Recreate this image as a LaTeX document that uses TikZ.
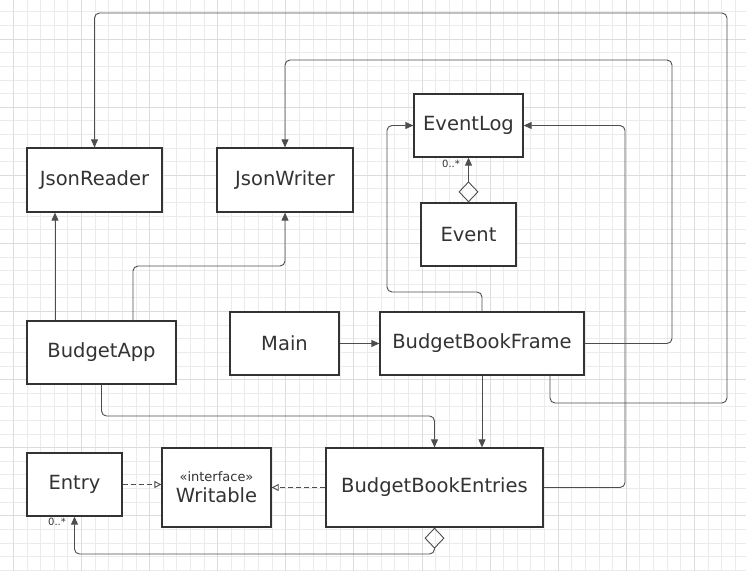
\documentclass[tikz,border=0pt]{standalone}
\usepackage{fontspec}
\setmainfont{DejaVu Sans}
\usetikzlibrary{arrows.meta}
\definecolor{ink}{HTML}{333333}
\definecolor{wire}{HTML}{4D4D4D}
\definecolor{gridminor}{HTML}{EBEBEB}
\definecolor{gridmajor}{HTML}{DCDCDC}

\begin{document}
\begin{tikzpicture}[x=1pt,y=-1pt]
  \tikzset{cls/.style = {shape=rectangle, draw=ink, line width=1.3pt, fill=white, text=ink, inner sep=1pt, font=\fontsize{19.5}{21}\selectfont}}
  \tikzset{link/.style = {draw=wire, line width=0.9pt, rounded corners=5pt, arrows={-Triangle[length=8pt,width=7pt]}}}
  \tikzset{realize/.style = {draw=wire, line width=0.9pt, dash pattern=on 5pt off 3pt, arrows={-Triangle[open,length=7pt,width=7pt]}}}
  \tikzset{aggr/.style = {link, arrows={Diamond[open,length=21pt,width=20pt]-Triangle[length=8pt,width=7pt]}}}
  \tikzset{mult/.style = {text=ink, inner sep=0pt, font=\fontsize{10}{12}\selectfont}}

  \useasboundingbox (0,0) rectangle (746,571);
  \fill[white] (0,0) rectangle (746,571);
  % grid
  \foreach \i in {0,...,54} \draw[gridminor, line width=0.8pt] ({-0.3+13.62*\i},0) -- ({-0.3+13.62*\i},571);
  \foreach \i in {0,...,41} \draw[gridminor, line width=0.8pt] (0,{11.8+13.62*\i}) -- (746,{11.8+13.62*\i});
  \foreach \i in {0,...,10} \draw[gridmajor, line width=0.8pt] ({13.3+68.1*\i},0) -- ({13.3+68.1*\i},571);
  \foreach \i in {0,...,7} \draw[gridmajor, line width=0.8pt] (0,{39+68.1*\i}) -- (746,{39+68.1*\i});

	\node[cls, minimum width=135pt, minimum height=64pt] (jsonreader) at (94.5,180) {JsonReader};
	\node[cls, minimum width=136pt, minimum height=64pt] (jsonwriter) at (285,180) {JsonWriter};
	
	\node[cls, minimum width=109pt, minimum height=63pt] (eventlog) at (468.5,125.5) {EventLog};
	\node[cls, minimum width=95pt, minimum height=63pt] (event) at (468.5,234.5) {Event};
	
	\node[cls, minimum width=149pt, minimum height=63pt] (budgetapp) at (101.5,352.5) {BudgetApp};
	\node[cls, minimum width=109pt, minimum height=63pt] (main) at (284.5,343.5) {Main};
	\node[cls, minimum width=204pt, minimum height=63pt] (frame) at (482,343.5) {BudgetBookFrame};
	
	\node[cls, minimum width=95pt, minimum height=63pt] (entry) at (74.5,484.5) {Entry};
	\node[cls, minimum width=109pt, minimum height=79pt, align=center] (writable) at (216.5,487.5) {{\fontsize{13}{14}\selectfont «interface»}\\Writable};
	\node[cls, minimum width=217pt, minimum height=79pt] (entries) at (434.5,487.5) {BudgetBookEntries};

	\node[mult] (evmult) at (451,163.5) {0..*};
	\node[mult] (enmult) at (57,521.5) {0..*};

    \draw[link] (budgetapp.north -| 55,0) -- (jsonreader.south -| 55,0);
    \draw[link] (budgetapp.north -| 133,0) |- (jsonwriter.south |- 0,266) -- (jsonwriter.south);
    \draw[link] (budgetapp.south) |- (entries.north |- 0,416) -- (entries.north);
    \draw[link] (main.east) -- (frame.west);
    \draw[link] (frame.south) -- (entries.north -| frame.south);
    \draw[link] (frame.east) -| (672,60) -| (jsonwriter.north);
    \draw[link] (frame.south -| 550,0) |- (727,403) -- (727,13) -| (jsonreader.north);
    \draw[link] (frame.north) |- (387,292) |- (eventlog.west);
    \draw[link] (entries.east) -| (625,125.5) -- (eventlog.east);
    \draw[aggr] (event.north) -- (eventlog.south);
    \draw[aggr] (entries.south) |- (entry.south |- 0,554) -- (entry.south);
    \draw[realize] (entry.east) -- (writable.west |- entry.east);
    \draw[realize] (entries.west) -- (writable.east);
    
\end{tikzpicture}
\end{document}
